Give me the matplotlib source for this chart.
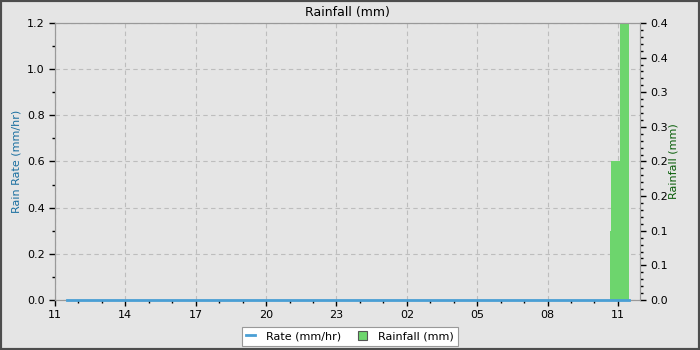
import matplotlib
matplotlib.use("Agg")
import matplotlib.pyplot as plt
from matplotlib.ticker import MultipleLocator, FormatStrFormatter, FixedLocator
from matplotlib.lines import Line2D
from matplotlib.patches import Patch

# Data (hours since 11:00 on first day)
x_tick_labels = ["11", "14", "17", "20", "23", "02", "05", "08", "11"]
rate_hours = [0.5, 24.45]
rate_values = [0.0, 0.0]
bar_start_hours = [23.66, 23.72, 24.08]
bar_end_hours = [23.72, 24.08, 24.45]
rain_values = [0.1, 0.2, 0.4]

bg = "#e5e5e5"
fig = plt.figure(figsize=(7, 3.5), dpi=100, facecolor=bg)
fig.patches.append(plt.Rectangle((0, 0), 1, 1, transform=fig.transFigure,
                                 fill=False, edgecolor="#4d4d4d", linewidth=3))
ax = fig.add_axes([55/700, 1-300/350, (640-55)/700, (300-23)/350], facecolor=bg)
ax2 = ax.twinx()

ax.set_xlim(0, 24.94)
ax.set_ylim(0, 1.2)
ax2.set_ylim(0, 0.4)

widths = [e - s for s, e in zip(bar_start_hours, bar_end_hours)]
ax2.bar(bar_start_hours, rain_values, width=widths, align="edge",
        color="#6dd56d", edgecolor="none", zorder=2, clip_on=False)
# rate line drawn on the top axes but through the left axis' data scale
ax2.plot(rate_hours, rate_values, color="#4a9fd5", linewidth=2, zorder=3,
         clip_on=False, transform=ax.transData)

ax.xaxis.set_major_locator(FixedLocator([0, 3, 6, 9, 12, 15, 18, 21, 24]))
ax.set_xticklabels(x_tick_labels)
ax.xaxis.set_minor_locator(MultipleLocator(1))
ax.yaxis.set_major_locator(MultipleLocator(0.2))
ax.yaxis.set_minor_locator(MultipleLocator(0.1))
ax.yaxis.set_major_formatter(FormatStrFormatter("%.1f"))
ax2.yaxis.set_major_locator(MultipleLocator(0.05))
ax2.yaxis.set_minor_locator(MultipleLocator(0.01))
ax2.yaxis.set_major_formatter(FormatStrFormatter("%.1f"))

ax.grid(True, which="major", linestyle=(0, (4, 3)), color="#bdbdbd", linewidth=0.8)
ax.set_axisbelow(True)

for a in (ax, ax2):
    for s in a.spines.values():
        s.set_color("#999999")
    a.tick_params(which="major", length=4, width=1, colors="black", labelsize=8)
    a.tick_params(which="minor", length=2.5, width=1, colors="black")
ax.tick_params(axis="x", pad=3)

ax.set_ylabel("Rain Rate (mm/hr)", color="#1a6fa0", fontsize=8, labelpad=4)
ax2.set_ylabel("Rainfall (mm)", color="#0a5f0a", fontsize=8, labelpad=0)
ax.set_title("Rainfall (mm)", fontsize=9, pad=5)

handles = [Line2D([], [], color="#4a9fd5", linewidth=2),
           Patch(facecolor="#6dd56d", edgecolor="#555555", linewidth=0.8)]
leg = fig.legend(handles, ["Rate (mm/hr)", "Rainfall (mm)"], loc="lower center",
                 bbox_to_anchor=(0.5, -0.004), ncol=2, fontsize=8, frameon=True,
                 fancybox=False, edgecolor="#999999", facecolor="white", framealpha=1,
                 handlelength=0.8, handleheight=0.8, columnspacing=1.5, borderpad=0.4,
                 handletextpad=1.0)
leg.get_frame().set_linewidth(0.8)

fig.savefig("out.png", dpi=100, facecolor=bg)
